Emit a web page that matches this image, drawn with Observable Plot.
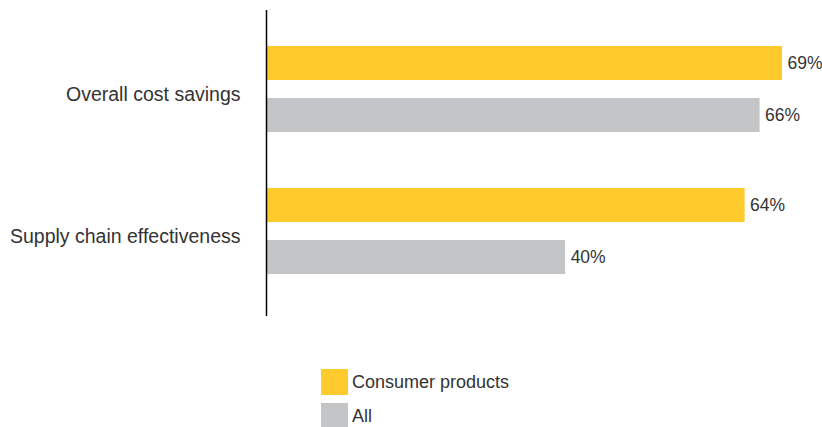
<!DOCTYPE html>
<html>
<head>
<meta charset="utf-8">
<script src="https://cdn.jsdelivr.net/npm/d3@7"></script>
<script src="https://cdn.jsdelivr.net/npm/@observablehq/plot@0.6"></script>
<style>
  body { margin: 0; background: #fff; font-family: "Liberation Sans", Arial, Helvetica, sans-serif; color: #333; }
  #legend { margin-left: 321px; margin-top: 29px; font-size: 18px; }
  .item { display: flex; align-items: center; height: 26px; margin-bottom: 8px; }
  .sw { width: 27px; height: 26px; margin-right: 4px; }
</style>
</head>
<body>
<div id="chart"></div>
<div id="legend"></div>
<script>
const categories = ["Overall cost savings", "Supply chain effectiveness"];
const seriesNames = ["Consumer products", "All"];
const consumerValues = [69, 64];
const allValues = [66, 40];
const colors = ["#ffca2b", "#c4c5c7"];

const consumer = categories.map((c, i) => ({category: c, series: seriesNames[0], value: consumerValues[i]}));
const all = categories.map((c, i) => ({category: c, series: seriesNames[1], value: allValues[i]}));

const chart = Plot.plot({
  width: 822,
  height: 340,
  marginLeft: 266,
  marginRight: 40,
  marginTop: 10,
  marginBottom: 24,
  style: {fontFamily: '"Liberation Sans", Arial, Helvetica, sans-serif', fontSize: "18px", color: "#333", background: "#fff"},
  x: {domain: [0, 69], axis: null},
  y: {domain: categories, paddingInner: 0.392, paddingOuter: 0.266, align: 0.46},
  color: {domain: seriesNames, range: colors},
  marks: [
    Plot.barX(consumer, {y: "category", x: "value", fill: "series", insetBottom: 52}),
    Plot.barX(all, {y: "category", x: "value", fill: "series", insetTop: 52}),
    Plot.text(consumer, {y: "category", x: "value", text: d => d.value + "%", textAnchor: "start", dx: 5, dy: -26, fontSize: 17.5, fill: "#333"}),
    Plot.text(all, {y: "category", x: "value", text: d => d.value + "%", textAnchor: "start", dx: 5, dy: 26, fontSize: 17.5, fill: "#333"}),
    Plot.ruleX([0], {stroke: "#000", strokeWidth: 1.5}),
    Plot.axisY({tickSize: 0, tickPadding: 26, dy: 5, fontSize: 19.5, label: null, fill: "#333"})
  ]
});
document.getElementById("chart").appendChild(chart);

const legend = document.getElementById("legend");
seriesNames.forEach((s, i) => {
  const item = document.createElement("div");
  item.className = "item";
  const sw = document.createElement("div");
  sw.className = "sw";
  sw.style.background = colors[i];
  const label = document.createElement("span");
  label.textContent = s;
  item.appendChild(sw);
  item.appendChild(label);
  legend.appendChild(item);
});
</script>
</body>
</html>
